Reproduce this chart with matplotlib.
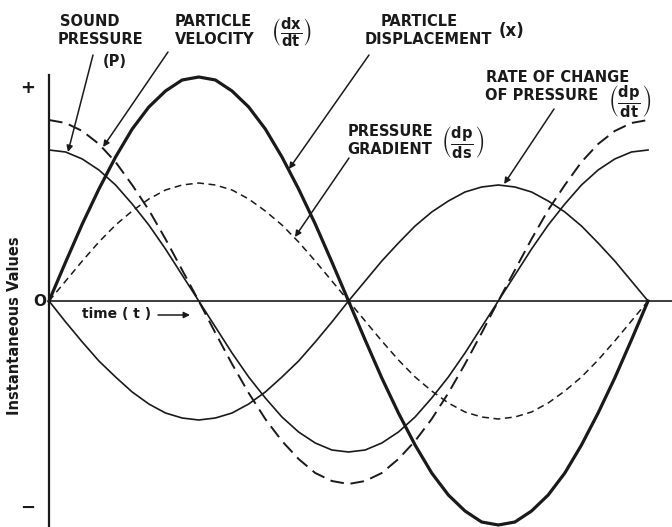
import matplotlib
matplotlib.use('Agg')
import numpy as np
import matplotlib.pyplot as plt

plt.rcParams['font.family'] = 'DejaVu Sans'
plt.rcParams['mathtext.fontset'] = 'dejavusans'
plt.rcParams['mathtext.default'] = 'bf'

# Phase of the wave in degrees (one full cycle), sampled every 10 degrees
phase = np.arange(0, 361, 10)

# Instantaneous values (arbitrary units)
displacement = [0, 3.9, 7.7, 11.2, 14.4, 17.2, 19.4, 21.0, 22.1, 22.4,
                22.1, 21.0, 19.4, 17.2, 14.4, 11.2, 7.7, 3.9, 0,
                -3.9, -7.7, -11.2, -14.4, -17.2, -19.4, -21.0, -22.1, -22.4,
                -22.1, -21.0, -19.4, -17.2, -14.4, -11.2, -7.7, -3.9, 0]
velocity = [18.1, 17.8, 17.0, 15.7, 13.9, 11.6, 9.1, 6.2, 3.1, 0,
            -3.2, -6.3, -9.2, -11.8, -14.0, -15.8, -17.2, -18.0, -18.3,
            -18.0, -17.2, -15.8, -14.0, -11.8, -9.2, -6.3, -3.2, 0,
            3.1, 6.2, 9.1, 11.6, 13.9, 15.7, 17.0, 17.8, 18.1]
pressure = [15.1, 14.9, 14.2, 13.1, 11.6, 9.7, 7.6, 5.2, 2.6, 0,
            -2.6, -5.2, -7.6, -9.7, -11.6, -13.1, -14.2, -14.9, -15.1,
            -14.9, -14.2, -13.1, -11.6, -9.7, -7.6, -5.2, -2.6, 0,
            2.6, 5.2, 7.6, 9.7, 11.6, 13.1, 14.2, 14.9, 15.1]
gradient = [0, 2.0, 4.0, 5.9, 7.6, 9.0, 10.2, 11.1, 11.6, 11.8,
            11.6, 11.1, 10.2, 9.0, 7.6, 5.9, 4.0, 2.0, 0,
            -2.0, -4.0, -5.9, -7.6, -9.0, -10.2, -11.1, -11.6, -11.8,
            -11.6, -11.1, -10.2, -9.0, -7.6, -5.9, -4.0, -2.0, 0]
rate = [0, -2.1, -4.1, -6.0, -7.6, -9.1, -10.3, -11.2, -11.7, -11.9,
        -11.7, -11.2, -10.3, -9.1, -7.6, -6.0, -4.1, -2.1, 0,
        2.0, 4.0, 5.8, 7.5, 8.9, 10.0, 10.9, 11.4, 11.6,
        11.4, 10.9, 10.0, 8.9, 7.5, 5.8, 4.0, 2.0, 0]

W, H = 672, 527
fig = plt.figure(figsize=(W / 100, H / 100), dpi=100)
ax = fig.add_axes([0, 0, 1, 1])
ax.set_xlim(-29.45, 374.4)
ax.set_ylim(-22.6, 30.1)
ax.axis('off')


def fpos(x, y):
    # pixel position (from top-left) -> figure fraction
    return x / W, 1 - y / H


ink = '#1a1a1a'

# Axes
ax.plot([0, 0], [22.6, -22.6], color=ink, lw=1.6)
ax.plot([0, 374.4], [0, 0], color=ink, lw=1.2)

# Curves
ax.plot(phase, displacement, color=ink, lw=2.3)
ax.plot(phase, velocity, color=ink, lw=1.4, dashes=(7, 3.5))
ax.plot(phase, pressure, color=ink, lw=1.2)
ax.plot(phase, gradient, color=ink, lw=1.1, dashes=(4.5, 3))
ax.plot(phase, rate, color=ink, lw=1.2)

fs = 10.5
lab = dict(fontsize=fs, fontweight='bold', color=ink, va='center', ha='left')
frac = dict(fontsize=15, color=ink, va='center', ha='center')

fig.text(*fpos(60, 22), 'SOUND', **lab)
fig.text(*fpos(58, 40), 'PRESSURE', **lab)
fig.text(*fpos(103, 62), '(P)', **lab)

fig.text(*fpos(175, 22), 'PARTICLE', **lab)
fig.text(*fpos(175, 40), 'VELOCITY', **lab)
fig.text(*fpos(291, 33), r'$\left(\frac{dx}{dt}\right)$', **frac)

fig.text(*fpos(381, 22), 'PARTICLE', **lab)
fig.text(*fpos(365, 40), 'DISPLACEMENT', **lab)
fig.text(*fpos(511, 31), '(x)', fontsize=12, fontweight='bold', color=ink,
         va='center', ha='center')

fig.text(*fpos(348, 131), 'PRESSURE', **lab)
fig.text(*fpos(347, 150), 'GRADIENT', **lab)
fig.text(*fpos(463, 143), r'$\left(\frac{dp}{ds}\right)$', **frac)

fig.text(*fpos(486, 77), 'RATE OF CHANGE', **lab)
fig.text(*fpos(485, 95), 'OF PRESSURE', **lab)
fig.text(*fpos(630, 102), r'$\left(\frac{dp}{dt}\right)$', **frac)

fig.text(*fpos(82, 314), 'time ( t )', fontsize=10, fontweight='bold', color=ink,
         va='center', ha='left')
fig.text(*fpos(15, 326), 'Instantaneous Values', fontsize=10.5, fontweight='bold',
         color=ink, rotation=90, va='center', ha='center')
fig.text(*fpos(28, 88), '+', fontsize=13, fontweight='bold', color=ink,
         va='center', ha='center')
fig.text(*fpos(40, 301), 'O', fontsize=11, fontweight='bold', color=ink,
         va='center', ha='center')
fig.text(*fpos(28, 508), '\u2212', fontsize=13, fontweight='bold', color=ink,
         va='center', ha='center')

# Pointer arrows
arr = dict(arrowstyle='-|>', lw=1.1, color=ink, mutation_scale=9,
           shrinkA=0, shrinkB=0)
pointers = [
    ((11.4, 14.9), (93, 55)),
    ((32.5, 15.4), (168, 52)),
    ((144.2, 13.2), (369, 55)),
    ((147.8, 6.4), (349, 158)),
    ((273.5, 11.7), (554, 109)),
]
for tip, tail in pointers:
    ax.annotate('', xy=tip, xycoords='data', xytext=fpos(*tail),
                textcoords='figure fraction', arrowprops=arr)

ax.annotate('', xy=fpos(190, 315), xycoords='figure fraction',
            xytext=fpos(158, 315), textcoords='figure fraction', arrowprops=arr)

fig.savefig('out.png', dpi=100)
